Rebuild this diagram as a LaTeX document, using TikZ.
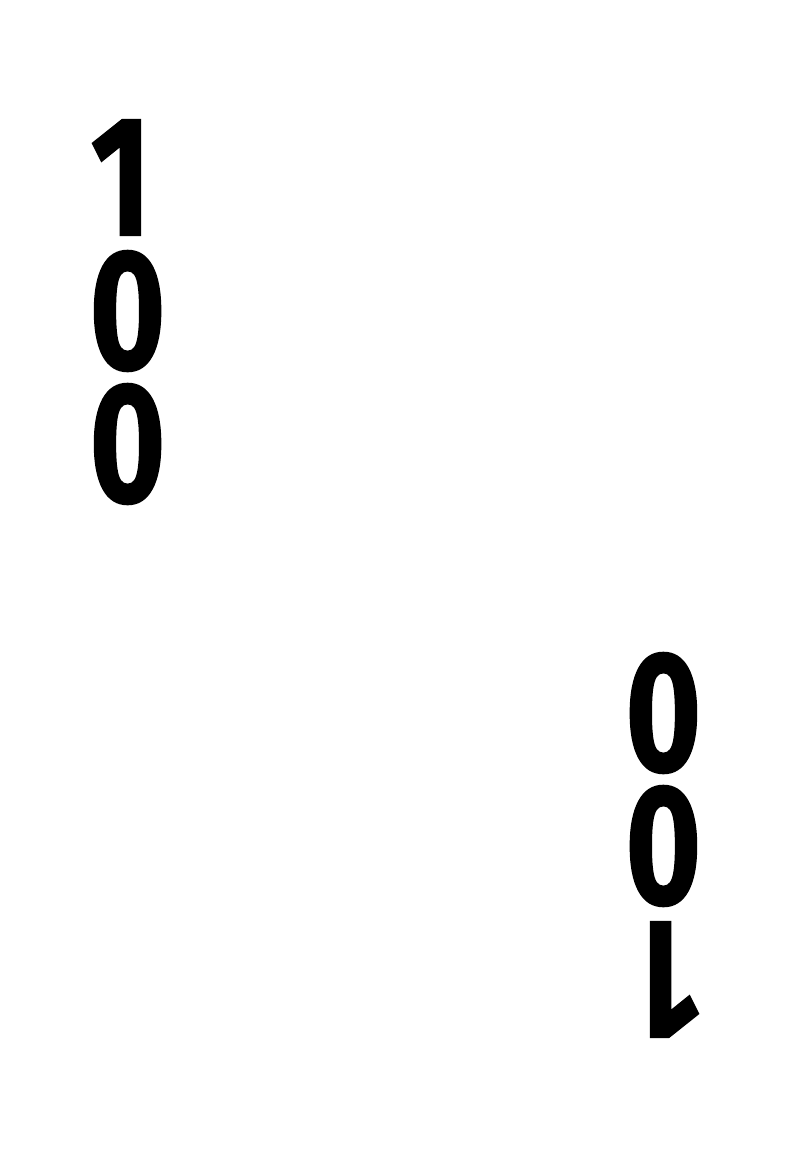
\documentclass[tikz,border=0pt]{standalone}
\usepackage{fontspec}
\newfontfamily\digitfont{Fira Sans}[FakeBold=1]

\begin{document}
\begin{tikzpicture}[x=1pt,y=-1pt,
    digit/.style={font=\digitfont\bfseries\fontsize{171}{171}\selectfont, inner sep=0pt, xscale=0.76}]
    \useasboundingbox (0,0) rectangle (791,1157);
    % top left, upright
    \node[digit] (one) at (121,177.5) {1};
    \node[digit] (zeroa) at (127.5,311) {0};
    \node[digit] (zerob) at (127.5,444) {0};
    % bottom right, turned round
    \node[digit, rotate=180] (oneturned) at (670,979.5) {1};
    \node[digit, rotate=180] (zeroaturned) at (663.5,846) {0};
    \node[digit, rotate=180] (zerobturned) at (663.5,713) {0};
\end{tikzpicture}
\end{document}
